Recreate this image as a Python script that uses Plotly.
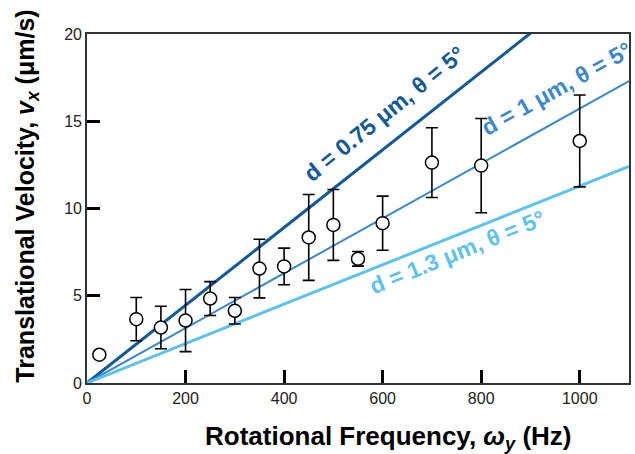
import plotly.graph_objects as go

# Data
freq = [25, 100, 150, 200, 250, 300, 350, 400, 450, 500, 550, 600, 700, 800, 1000]
velocity = [1.62, 3.66, 3.18, 3.58, 4.84, 4.14, 6.56, 6.68, 8.34, 9.06, 7.12, 9.16, 12.63, 12.46, 13.87]
err = [0, 1.24, 1.22, 1.78, 0.97, 0.76, 1.68, 1.05, 2.46, 2.03, 0.42, 1.55, 2.0, 2.7, 2.63]

line_x = [0, 1100]
line_d075 = [0, 24.5]
line_d1 = [0, 17.3]
line_d13 = [0, 12.42]

labels = ["d = 0.75 μm, θ = 5°", "d = 1 μm, θ = 5°", "d = 1.3 μm, θ = 5°"]
colors = ["#12589c", "#3b88cf", "#5ec2f0"]

FONT = "Liberation Sans, Arial, sans-serif"

fig = go.Figure()
for ys, c, w in [(line_d075, colors[0], 3), (line_d1, colors[1], 2), (line_d13, colors[2], 3)]:
    fig.add_trace(go.Scatter(x=line_x, y=ys, mode="lines", line=dict(color=c, width=w),
                             showlegend=False, hoverinfo="skip", cliponaxis=True))

fig.add_trace(go.Scatter(
    x=freq, y=velocity, mode="markers",
    marker=dict(symbol="circle", size=13, color="white", line=dict(color="black", width=1.5)),
    error_y=dict(type="data", array=err, visible=True, color="black", thickness=1.6, width=6),
    showlegend=False, cliponaxis=False))

axis_common = dict(showline=True, linecolor="#333", linewidth=1.6, mirror=True,
                   ticks="inside", ticklen=13, tickwidth=2.5, tickcolor="black",
                   showgrid=False, zeroline=False,
                   tickfont=dict(family=FONT, size=16, color="#222"))

fig.update_xaxes(range=[0, 1100], tickvals=[0, 200, 400, 600, 800, 1000], **axis_common)
fig.update_yaxes(range=[0, 20], tickvals=[0, 5, 10, 15, 20], **axis_common)

annotations = [
    dict(x=603, y=15.4, text="<b>" + labels[0] + "</b>", textangle=-39, color=colors[0]),
    dict(x=952, y=16.85, text="<b>" + labels[1] + "</b>", textangle=-29, color=colors[1]),
    dict(x=752, y=7.5, text="<b>" + labels[2] + "</b>", textangle=-22, color=colors[2]),
]
for a in annotations:
    fig.add_annotation(x=a["x"], y=a["y"], xref="x", yref="y", text=a["text"], textangle=a["textangle"],
                       showarrow=False, xanchor="center", yanchor="middle",
                       font=dict(family=FONT, size=23, color=a["color"]))

fig.add_annotation(x=0.557, y=-0.157, xref="paper", yref="paper",
                   text="<b>Rotational Frequency, <i>ω</i><sub><i>y</i></sub> (Hz)</b>",
                   showarrow=False, xanchor="center", yanchor="middle",
                   font=dict(family=FONT, size=26, color="black"))
fig.add_annotation(x=-0.11, y=0.535, xref="paper", yref="paper",
                   text="<b>Translational Velocity, <i>v</i><sub><i>x</i></sub> (μm/s)</b>",
                   textangle=-90, showarrow=False, xanchor="center", yanchor="middle",
                   font=dict(family=FONT, size=25, color="black"))

fig.update_layout(width=635, height=454, margin=dict(l=87, r=4, t=34, b=71),
                  plot_bgcolor="white", paper_bgcolor="white",
                  font=dict(family=FONT))

fig.write_html("out.html", config={"displayModeBar": False},
               post_script="document.body.style.margin='0';document.body.style.overflow='hidden';")
